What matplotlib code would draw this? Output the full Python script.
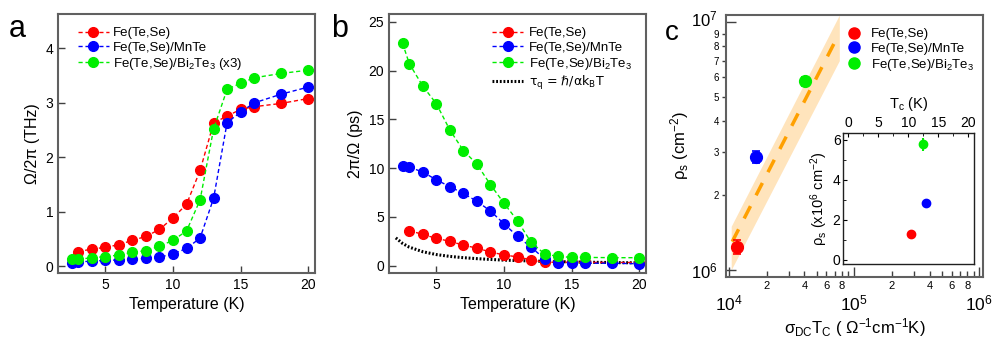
import matplotlib
matplotlib.use('Agg')
import matplotlib.pyplot as plt
import matplotlib.ticker as mticker
import matplotlib.transforms as mtransforms
from matplotlib.lines import Line2D
import numpy as np

plt.rcParams['font.family'] = ['Liberation Sans', 'DejaVu Sans']
plt.rcParams['mathtext.fontset'] = 'custom'
plt.rcParams['mathtext.rm'] = 'Liberation Sans'
plt.rcParams['mathtext.it'] = 'Liberation Sans:italic'
plt.rcParams['mathtext.default'] = 'regular'

# ---- data ----
T_red = [3, 4, 5, 6, 7, 8, 9, 10, 11, 12, 13, 14, 15, 16, 18, 20]
T_all = [2.5, 3, 4, 5, 6, 7, 8, 9, 10, 11, 12, 13, 14, 15, 16, 18, 20]

# panel a: Omega/2pi (THz)
freq_fts = [0.27, 0.32, 0.35, 0.40, 0.48, 0.55, 0.68, 0.89, 1.14, 1.76, 2.63, 2.76, 2.88, 2.93, 2.99, 3.08]
freq_mnte = [0.06, 0.08, 0.10, 0.11, 0.12, 0.13, 0.15, 0.17, 0.23, 0.33, 0.52, 1.25, 2.64, 2.83, 3.00, 3.16, 3.29]
freq_bite = [0.13, 0.13, 0.16, 0.18, 0.21, 0.26, 0.29, 0.37, 0.48, 0.65, 1.22, 2.52, 3.25, 3.36, 3.46, 3.54, 3.60]

# panel b: 2pi/Omega (ps)
tau_fts = [3.6, 3.2, 2.8, 2.5, 2.1, 1.8, 1.4, 1.1, 0.9, 0.6, 0.35, 0.36, 0.35, 0.34, 0.33, 0.32]
tau_mnte = [10.2, 10.1, 9.6, 8.8, 8.1, 7.4, 6.6, 5.6, 4.3, 3.0, 1.9, 0.7, 0.3, 0.25, 0.25, 0.25, 0.2]
tau_bite = [22.8, 20.7, 18.4, 16.6, 13.9, 11.8, 10.4, 8.3, 6.4, 4.6, 2.4, 1.2, 0.95, 0.85, 0.85, 0.82, 0.82]
T_planck = [2, 2.5, 3, 4, 5, 6, 7, 8, 9, 10, 12, 14, 16, 18, 20]
tau_planck = [2.85, 2.28, 1.9, 1.43, 1.14, 0.95, 0.82, 0.72, 0.64, 0.57, 0.48, 0.41, 0.36, 0.32, 0.29]

# panel c
sigmaT = [1.16e4, 1.65e4, 4.03e4]
rho_s = [1.24e6, 2.86e6, 5.78e6]
rho_err = [0.08e6, 0.15e6, 0.25e6]
fit_x = [1.06e4, 7.4e4]
fit_y = [1.30e6, 8.8e6]
band_x = [1.04e4, 7.6e4]
band_lo = [1.0e6, 7.0e6]
band_hi = [1.5e6, 1.07e7]
# inset
Tc = [10.5, 12.9, 12.5]
rho_inset = [1.28, 2.87, 5.78]
rho_inset_err = [0.0, 0.12, 0.32]

names = ['Fe(Te,Se)', 'Fe(Te,Se)/MnTe', 'Fe(Te,Se)/Bi$_2$Te$_3$']
colors = ['#ff0000', '#0000ff', '#00ee00']

spine_col = '#606060'


def style_axes(ax):
    for s in ax.spines.values():
        s.set_color(spine_col)
        s.set_linewidth(1.5)
    ax.tick_params(direction='in', length=5, width=1, color='#404040', labelsize=10)


fig = plt.figure(figsize=(9.97, 3.44), dpi=100)

# ---------------- panel a ----------------
axa = fig.add_axes([0.0582, 0.2064, 0.2578, 0.7529])
style_axes(axa)
axa.plot(T_red, freq_fts, '--o', color=colors[0], ms=7, lw=1, dashes=(3, 2), label=names[0])
axa.plot(T_all, freq_mnte, '--o', color=colors[1], ms=7, lw=1, dashes=(3, 2), label=names[1])
axa.plot(T_all, freq_bite, '--o', color=colors[2], ms=7, lw=1, dashes=(3, 2), label=names[2] + ' (x3)')
axa.set_xlim(1.5, 20.5)
axa.set_ylim(-0.12, 4.63)
axa.set_xticks([5, 10, 15, 20])
axa.set_yticks([0, 1, 2, 3, 4])
axa.set_xlabel('Temperature (K)', fontsize=11.5)
axa.set_ylabel('Ω/2π (THz)', fontsize=11.5)
axa.legend(loc='upper left', bbox_to_anchor=(0.04, 0.985), frameon=False, fontsize=9.5,
           handlelength=2.4, handletextpad=0.3, labelspacing=0.15, borderaxespad=0.3)
fig.text(0.017, 0.915, 'a', fontsize=22, ha='center', va='center')

# ---------------- panel b ----------------
axb = fig.add_axes([0.3902, 0.2064, 0.2578, 0.7529])
style_axes(axb)
axb.plot(T_red, tau_fts, '--o', color=colors[0], ms=7, lw=1, dashes=(3, 2), label=names[0])
axb.plot(T_all, tau_mnte, '--o', color=colors[1], ms=7, lw=1, dashes=(3, 2), label=names[1])
axb.plot(T_all, tau_bite, '--o', color=colors[2], ms=7, lw=1, dashes=(3, 2), label=names[2])
axb.plot(T_planck, tau_planck, color='black', lw=2.2, linestyle=(0, (0.6, 0.6)),
         label='τ$_q$ = ℏ/αk$_B$T', zorder=1)
axb.set_xlim(1.5, 20.5)
axb.set_ylim(-0.75, 25.8)
axb.set_xticks([5, 10, 15, 20])
axb.set_yticks([0, 5, 10, 15, 20, 25])
axb.set_xlabel('Temperature (K)', fontsize=11.5)
axb.set_ylabel('2π/Ω (ps)', fontsize=11.5)
legb = axb.legend(loc='upper right', bbox_to_anchor=(0.98, 0.985), frameon=False, fontsize=9.5,
                  handlelength=2.4, handletextpad=0.4, labelspacing=0.15, borderaxespad=0.3)
# Liberation Sans has no h-bar glyph
legb.get_texts()[3].set_fontfamily('DejaVu Sans')
legb.get_texts()[3].set_fontsize(9)
fig.text(0.341, 0.915, 'b', fontsize=22, ha='center', va='center')

# ---------------- panel c ----------------
axc = fig.add_axes([0.7279, 0.1962, 0.2581, 0.760])
for s in axc.spines.values():
    s.set_color(spine_col)
    s.set_linewidth(1.5)
axc.set_xscale('log')
axc.set_yscale('log')
axc.fill_between(band_x, band_lo, band_hi, color='#ffe4bc', lw=0, zorder=1)
axc.plot(fit_x, fit_y, color='#ffa000', lw=2.5, dashes=(4, 3.5), zorder=2)
for x, y, e, c in zip(sigmaT, rho_s, rho_err, colors):
    axc.errorbar(x, y, yerr=e, fmt='o', color=c, ms=8.5, capsize=3, elinewidth=1.2,
                 capthick=1.2, zorder=3)
axc.set_xlim(9400, 1.07e6)
axc.set_ylim(9.4e5, 1.07e7)

axc.xaxis.set_major_locator(mticker.LogLocator(base=10))
axc.xaxis.set_minor_locator(mticker.LogLocator(base=10, subs=np.arange(2, 10)))
axc.xaxis.set_major_formatter(mticker.LogFormatterMathtext())
axc.xaxis.set_minor_formatter(mticker.FuncFormatter(
    lambda v, p: '%d' % round(v / 10 ** np.floor(np.log10(v) + 1e-9))
    if round(v / 10 ** np.floor(np.log10(v) + 1e-9)) in (2, 4, 6, 8) else ''))
axc.yaxis.set_major_locator(mticker.LogLocator(base=10))
axc.yaxis.set_minor_locator(mticker.LogLocator(base=10, subs=np.arange(2, 10)))
axc.yaxis.set_major_formatter(mticker.LogFormatterMathtext())
axc.yaxis.set_minor_formatter(mticker.FuncFormatter(
    lambda v, p: '%d' % round(v / 10 ** np.floor(np.log10(v) + 1e-9))))
axc.tick_params(axis='x', which='major', direction='in', length=7, width=1, pad=12, labelsize=12.5, color='#404040')
axc.tick_params(axis='x', which='minor', direction='in', length=4, width=1, pad=3, labelsize=8, color='#404040')
axc.tick_params(axis='y', which='major', direction='in', length=7, width=1, pad=6, labelsize=12, color='#404040')
axc.tick_params(axis='y', which='minor', direction='out', length=3, width=1, pad=2, labelsize=7, color='#404040')
axc.set_xlabel('σ$_{DC}$T$_C$ ( Ω$^{-1}$cm$^{-1}$K)', fontsize=12, labelpad=2)
axc.set_ylabel('ρ$_s$ (cm$^{-2}$)', fontsize=12, labelpad=0)
handles_c = [Line2D([], [], marker='o', ls='none', color=c, ms=8) for c in colors]
axc.legend(handles_c, names, loc='upper right', bbox_to_anchor=(1.0, 0.985), frameon=False,
           fontsize=9.5, handletextpad=0.3, labelspacing=0.15, borderaxespad=0.3)
fig.text(0.674, 0.905, 'c', fontsize=20, ha='center', va='center')

# inset
axi = fig.add_axes([0.8459, 0.2326, 0.1314, 0.380])
for s in axi.spines.values():
    s.set_color('#202020')
    s.set_linewidth(1)
for x, y, e, c in zip(Tc, rho_inset, rho_inset_err, colors):
    axi.errorbar(x, y, yerr=e if e > 0 else None, fmt='o', color=c, ms=6, elinewidth=1.5, capsize=0)
axi.set_xlim(-0.83, 21.0)
axi.set_ylim(-0.2, 6.33)
axi.set_xticks([0, 5, 10, 15, 20])
axi.set_yticks([0, 2, 4, 6])
axi.xaxis.set_minor_locator(mticker.MultipleLocator(2.5))
axi.yaxis.set_minor_locator(mticker.MultipleLocator(1))
axi.xaxis.tick_top()
axi.xaxis.set_label_position('top')
axi.tick_params(which='major', direction='in', length=3, width=0.8, labelsize=10, pad=2,
                top=True, bottom=False, left=True, right=False)
axi.tick_params(which='minor', direction='in', length=2, width=0.6,
                top=True, bottom=False, left=True, right=False)
axi.set_xlabel('T$_c$ (K)', fontsize=10.5, labelpad=6)
axi.set_ylabel('ρ$_s$ (x10$^6$ cm$^{-2}$)', fontsize=10.5, labelpad=2)

# nudge the 10^7 label up a little so it clears the "9" below it
fig.canvas.draw()
up = mtransforms.ScaledTranslation(0, 3 / 72, fig.dpi_scale_trans)
for tk in axc.yaxis.get_major_ticks():
    if tk.get_loc() > 5e6:
        tk.label1.set_transform(tk.label1.get_transform() + up)

fig.savefig('out.png', dpi=100)
